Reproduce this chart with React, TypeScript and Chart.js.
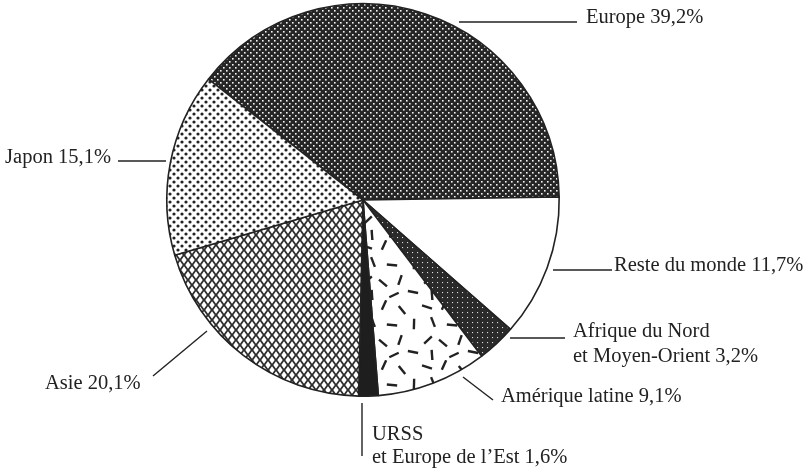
import React, { useEffect, useRef } from "react";
import { Chart, registerables } from "chart.js";

Chart.register(...registerables);

// ---- data ----
const categories = [
  "Europe",
  "Reste du monde",
  "Afrique du Nord\net Moyen-Orient",
  "Amérique latine",
  "URSS\net Europe de l’Est",
  "Asie",
  "Japon",
];
const shares = [39.2, 11.7, 3.2, 9.1, 1.6, 20.1, 15.1];

// ---- layout / style (not data) ----
const labelLayout = [
  { line: [459, 22, 577, 22], tx: 586, ty: 23, align: "left", lh: 24 },
  { line: [553, 270, 612, 270], tx: 614, ty: 271, align: "left", lh: 24 },
  { line: [510, 338, 565, 338], tx: 573, ty: 337, align: "left", lh: 25 },
  { line: [463, 377, 493, 400], tx: 501, ty: 402, align: "left", lh: 24 },
  { line: [362, 403, 362, 456], tx: 372, ty: 440, align: "left", lh: 23 },
  { line: [207, 331, 153, 376], tx: 45, ty: 389, align: "left", lh: 24 },
  { line: [118, 161, 166, 161], tx: 111, ty: 163, align: "right", lh: 24 },
];
const FONT = "20.5px 'Liberation Serif', 'Times New Roman', serif";
const INK = "#222";

function tile(w: number, h: number, draw: (g: CanvasRenderingContext2D) => void) {
  const c = document.createElement("canvas");
  c.width = w;
  c.height = h;
  const g = c.getContext("2d")!;
  draw(g);
  return c;
}

function makePatterns(ctx: CanvasRenderingContext2D) {
  const pat = (c: HTMLCanvasElement) => ctx.createPattern(c, "repeat")!;
  const europe = tile(6, 6, (g) => {
    g.fillStyle = "#262626";
    g.fillRect(0, 0, 6, 6);
    g.fillStyle = "#f4f4f4";
    g.fillRect(1, 1, 1.6, 1.6);
    g.fillRect(4, 4, 1.6, 1.6);
  });
  const afrique = tile(5, 5, (g) => {
    g.fillStyle = "#2a2a2a";
    g.fillRect(0, 0, 5, 5);
    g.fillStyle = "#ddd";
    g.fillRect(2, 2, 1.1, 1.1);
  });
  const japon = tile(8, 8, (g) => {
    g.fillStyle = "#fff";
    g.fillRect(0, 0, 8, 8);
    g.fillStyle = "#222";
    g.beginPath();
    g.arc(2, 2, 1.6, 0, Math.PI * 2);
    g.fill();
    g.beginPath();
    g.arc(6, 6, 1.6, 0, Math.PI * 2);
    g.fill();
  });
  const asie = tile(8, 10, (g) => {
    g.fillStyle = "#2e2e2e";
    g.fillRect(0, 0, 8, 10);
    g.fillStyle = "#fff";
    const dia = (cx: number, cy: number) => {
      g.beginPath();
      g.moveTo(cx, cy - 3.8);
      g.lineTo(cx + 2.7, cy);
      g.lineTo(cx, cy + 3.8);
      g.lineTo(cx - 2.7, cy);
      g.closePath();
      g.fill();
    };
    dia(0, 0);
    dia(8, 0);
    dia(0, 10);
    dia(8, 10);
    dia(4, 5);
  });
  const amerique = tile(60, 60, (g) => {
    g.fillStyle = "#fff";
    g.fillRect(0, 0, 60, 60);
    g.strokeStyle = "#222";
    g.lineWidth = 2.4;
    g.lineCap = "butt";
    const dashes = [
      [7, 7, 0.3], [24, 5, 2.0], [42, 10, 0.9], [54, 24, 1.6],
      [13, 22, 1.2], [32, 25, 0.1], [8, 40, 2.4], [23, 43, 0.7],
      [40, 40, 1.9], [53, 52, 0.2], [34, 55, 2.7], [12, 55, 1.5],
    ];
    for (const [x, y, a] of dashes) {
      const dx = Math.cos(a) * 5.2;
      const dy = Math.sin(a) * 5.2;
      g.beginPath();
      g.moveTo(x - dx, y - dy);
      g.lineTo(x + dx, y + dy);
      g.stroke();
    }
  });
  return [pat(europe), "#ffffff", pat(afrique), pat(amerique), "#1e1e1e", pat(asie), pat(japon)];
}

const labelPlugin = {
  id: "pieLabels",
  afterDraw(chart: any) {
    const ctx = chart.ctx;
    ctx.save();
    ctx.strokeStyle = INK;
    ctx.fillStyle = INK;
    ctx.lineWidth = 1.4;
    ctx.font = FONT;
    ctx.textBaseline = "alphabetic";
    categories.forEach((name, i) => {
      const L = labelLayout[i];
      ctx.beginPath();
      ctx.moveTo(L.line[0], L.line[1]);
      ctx.lineTo(L.line[2], L.line[3]);
      ctx.stroke();
      const lines = name.split("\n");
      const pct = shares[i].toFixed(1).replace(".", ",") + "%";
      lines[lines.length - 1] += " " + pct;
      ctx.textAlign = L.align;
      lines.forEach((t, k) => ctx.fillText(t, L.tx, L.ty + k * L.lh));
    });
    ctx.restore();
  },
};

export default function App() {
  const ref = useRef<HTMLCanvasElement>(null);
  useEffect(() => {
    const canvas = ref.current!;
    const ctx = canvas.getContext("2d")!;
    const colors = makePatterns(ctx);
    const chart = new Chart(canvas, {
      type: "pie",
      data: {
        labels: categories,
        datasets: [
          {
            data: shares,
            backgroundColor: colors as any,
            borderColor: INK,
            borderWidth: 1.6,
            clip: false as any,
          },
        ],
      },
      options: {
        responsive: false,
        animation: false,
        events: [],
        rotation: -52,
        layout: { padding: { left: 166, right: 250, top: 3, bottom: 71 } },
        plugins: { legend: { display: false }, tooltip: { enabled: false }, title: { display: false } },
      },
      plugins: [labelPlugin],
    });
    return () => chart.destroy();
  }, []);
  return (
    <div style={{ position: "absolute", left: 0, top: 0, width: 810, height: 468, background: "#fff" }}>
      <canvas ref={ref} width={810} height={468} style={{ display: "block" }} />
    </div>
  );
}
